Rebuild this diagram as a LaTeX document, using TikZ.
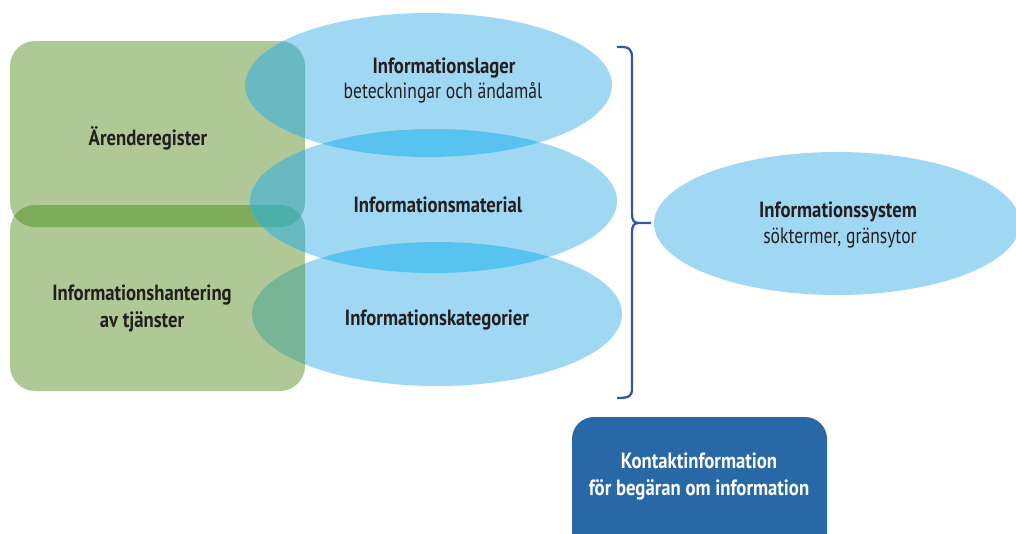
\documentclass[tikz,border=0pt]{standalone}
\usepackage{fontspec}
\setmainfont{PT Sans}
\newfontfamily\lblfont{PT Sans}[FakeStretch=0.85]
\newfontfamily\lblregfont{PT Sans}[FakeStretch=0.80]
\usetikzlibrary{shapes.geometric}
\definecolor{gbox}{HTML}{B0C896}
\definecolor{ggover}{HTML}{7EAD5A}
\definecolor{bell}{HTML}{A0D8F4}
\definecolor{bbover}{HTML}{58C3F0}
\definecolor{teal}{HTML}{68B9C0}
\definecolor{gteal}{HTML}{77B594}
\definecolor{triple}{HTML}{4AAFA8}
\definecolor{dblue}{HTML}{2868A6}
\definecolor{brace}{HTML}{3557A0}
\definecolor{txt}{HTML}{231F20}
\tikzset{
  lblb/.style={anchor=base, text=txt, font=\lblfont\bfseries\fontsize{22}{24}\selectfont, inner sep=0pt},
  lblr/.style={anchor=base, text=txt, font=\lblregfont\fontsize{22}{24}\selectfont, inner sep=0pt},
  lblw/.style={anchor=base, text=white, font=\lblfont\bfseries\fontsize{22}{24}\selectfont, inner sep=0pt},
  bracestyle/.style={draw=brace, line width=2.3pt},
}
\def\boxA{(10,41) rectangle (305,227)}
\def\boxB{(10,205) rectangle (305,391)}
\def\ellA{(428.5,85) ellipse [x radius=183.5, y radius=72]}
\def\ellB{(433.5,201) ellipse [x radius=183.5, y radius=72]}
\def\ellC{(437,314) ellipse [x radius=185, y radius=72]}
\def\ellD{(837,223.5) ellipse [x radius=183, y radius=71.5]}
\begin{document}
\begin{tikzpicture}[x=1pt, y=-1pt]
\useasboundingbox (0,0) rectangle (1016,533);
% green boxes
\fill[gbox, rounded corners=25pt] \boxA;
\fill[gbox, rounded corners=25pt] \boxB;
\begin{scope}
  \clip[rounded corners=25pt] \boxA;
  \fill[ggover, rounded corners=25pt] \boxB;
\end{scope}
% ellipses
\fill[bell] \ellA;
\fill[bell] \ellB;
\fill[bell] \ellC;
\fill[bell] \ellD;
\begin{scope}
  \clip \ellA;
  \fill[bbover] \ellB;
\end{scope}
\begin{scope}
  \clip \ellB;
  \fill[bbover] \ellC;
\end{scope}
% green-blue overlaps
\begin{scope}
  \clip[rounded corners=25pt] \boxA;
  \fill[teal] \ellA;
  \fill[teal] \ellB;
\end{scope}
\begin{scope}
  \clip[rounded corners=25pt] \boxB;
  \fill[teal] \ellB;
  \fill[gteal] \ellC;
\end{scope}
\begin{scope}
  \clip[rounded corners=25pt] \boxA;
  \clip[rounded corners=25pt] \boxB;
  \fill[triple] \ellB;
\end{scope}
% blue box
\fill[dblue, rounded corners=22pt] (572,417) rectangle (827,560);
% brace
\coordinate (bt) at (617,47);
\coordinate (bb) at (617,398);
\coordinate (tip) at (651,223);
\draw[bracestyle] (bt) .. controls (630,46) and (632,50) .. (632,58) -- (632,214)
  .. controls (632,220) and (634,223) .. (638,223) -- (tip);
\draw[bracestyle] (638,223) .. controls (634,223) and (632,226) .. (632,232) -- (632,388)
  .. controls (632,396) and (630,398) .. (bb);
% texts
\node[lblb] (t1) at (444,73) {Informationslager};
\node[lblr] (t1b) at (443,98) {beteckningar och ändamål};
\node[lblb] (t2) at (148,145) {Ärenderegister};
\node[lblb] (t3) at (438,212) {Informationsmaterial};
\node[lblb] (t4) at (142,300) {Informationshantering};
\node[lblb] (t4b) at (142,327) {av tjänster};
\node[lblb] (t5) at (437,325) {Informationskategorier};
\node[lblb] (t6) at (838,217) {Informationssystem};
\node[lblr] (t6b) at (840,243) {söktermer, gränsytor};
\node[lblw] (t7) at (699,468) {Kontaktinformation};
\node[lblw] (t7b) at (699,495) {för begäran om information};
\end{tikzpicture}
\end{document}
